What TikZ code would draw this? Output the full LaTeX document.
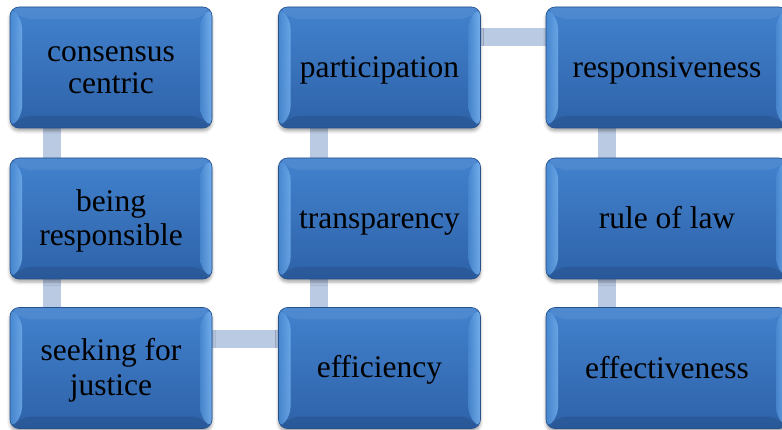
\documentclass[tikz,border=0pt]{standalone}
\usepackage{fontspec}
\setmainfont{Liberation Serif}
\newfontfamily\tilefont{Liberation Serif}
\usetikzlibrary{calc,backgrounds,shadows.blur}

\definecolor{faceTop}{RGB}{66,130,206}
\definecolor{faceBot}{RGB}{46,98,168}
\definecolor{edgeBlue}{RGB}{38,80,138}
\definecolor{bevelSoft}{RGB}{74,138,210}
\definecolor{bevelLight}{RGB}{112,172,234}
\definecolor{bevelBright}{RGB}{128,186,244}
\definecolor{bevelDark}{RGB}{40,86,148}
\definecolor{linkBlue}{RGB}{186,202,227}

\newcommand{\bv}{12pt}
% line strut: every text line gets the same height and depth
\newcommand{\ts}{\rule[-5.5pt]{0pt}{32pt}}

\tikzset{
  tile/.style={
    rounded corners=9pt, minimum width=202pt, minimum height=121pt,
    inner sep=0pt, align=center, text=black,
    font=\tilefont\fontsize{31.5}{32}\selectfont,
    top color=faceTop, bottom color=faceBot,
    draw=edgeBlue, line width=0.6pt,
    blur shadow={shadow xshift=0pt, shadow yshift=-3pt,
                 shadow blur radius=3pt, shadow opacity=35},
    path picture={
      \coordinate (pNW) at (path picture bounding box.north west);
      \coordinate (pNE) at (path picture bounding box.north east);
      \coordinate (pSW) at (path picture bounding box.south west);
      \coordinate (pSE) at (path picture bounding box.south east);
      % top bevel
      \fill[white, opacity=0.07] (pNW) -- ($(pNW)+(\bv,-\bv)$)
        -- ($(pNE)+(-\bv,-\bv)$) -- (pNE) -- cycle;
      % left bevel: brightening towards the face
      \shade[left color=bevelSoft, right color=bevelLight, opacity=0.85]
        (pNW) -- ($(pNW)+(\bv,-\bv)$)
        -- ($(pSW)+(\bv,\bv)$) -- (pSW) -- cycle;
      % right bevel: highlight along the outer edge
      \shade[left color=bevelSoft, right color=bevelBright, opacity=0.8]
        (pNE) -- ($(pNE)+(-\bv,-\bv)$)
        -- ($(pSE)+(-\bv,\bv)$) -- (pSE) -- cycle;
      % bottom bevel
      \fill[bevelDark, opacity=0.7] (pSW) -- ($(pSW)+(\bv,\bv)$)
        -- ($(pSE)+(-\bv,\bv)$) -- (pSE) -- cycle;
    }
  },
  widetile/.style={tile, minimum width=242pt},
  link/.style={line width=18pt, draw=linkBlue},
}

\begin{document}
\begin{tikzpicture}[x=1pt, y=-1pt]
  \useasboundingbox (0,0) rectangle (782,430);

  % first column
  \node[tile] (cc) at (111,67.5)  {\ts consensus\\\ts centric};
  \node[tile] (br) at (111,218.5) {\ts being\\\ts responsible};
  \node[tile] (sj) at (111,368)   {\ts seeking for\\\ts justice};

  % second column
  \node[tile] (pa) at (379.5,67.5)  {\ts participation};
  \node[tile] (tr) at (379.5,218.5) {\ts transparency};
  \node[tile] (ef) at (379.5,368)   {\ts efficiency};

  % third column
  \node[widetile] (re) at (667,67.5)  {\ts responsiveness};
  \node[widetile] (rl) at (667,218.5) {\ts rule of law};
  \node[widetile] (ev) at (667,368)   {\ts effectiveness};

  % linking bars behind the tiles
  \begin{scope}[on background layer]
    \draw[link] ([xshift=-59pt]cc.south) -- ([xshift=-59pt]br.north);
    \draw[link] ([xshift=-59pt]br.south) -- ([xshift=-59pt]sj.north);
    \draw[link] ([yshift=29pt]sj.east) -- ([yshift=29pt]ef.west);
    \draw[link] ([xshift=-60.5pt]ef.north) -- ([xshift=-60.5pt]tr.south);
    \draw[link] ([xshift=-60.5pt]tr.north) -- ([xshift=-60.5pt]pa.south);
    \draw[link] ([yshift=30.5pt]pa.east) -- ([yshift=30.5pt]re.west);
    \draw[link] ([xshift=-60pt]re.south) -- ([xshift=-60pt]rl.north);
    \draw[link] ([xshift=-60pt]rl.south) -- ([xshift=-60pt]ev.north);
  \end{scope}
\end{tikzpicture}
\end{document}
